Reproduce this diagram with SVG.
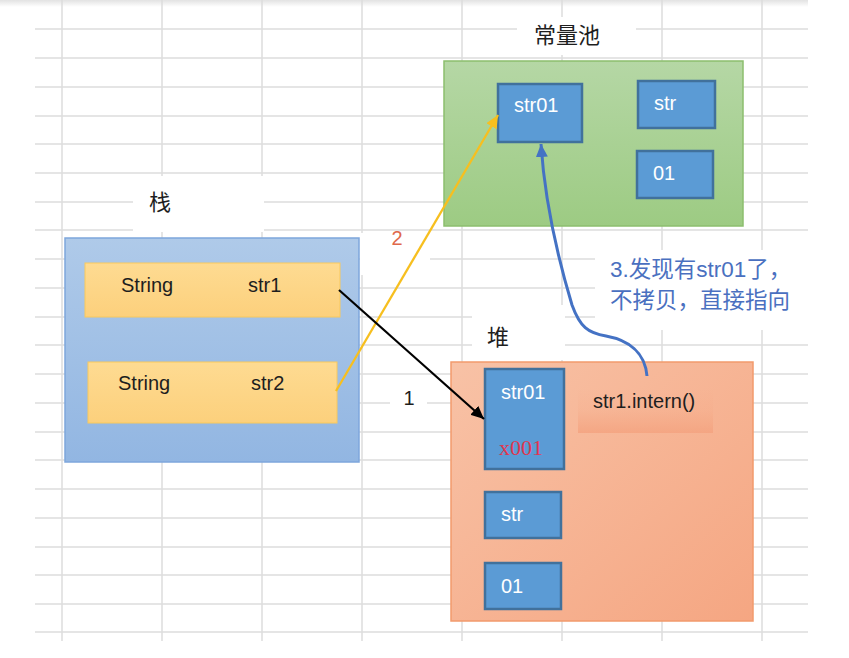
<svg xmlns="http://www.w3.org/2000/svg" width="849" height="658" viewBox="0 0 849 658">
<defs>
<style>
.grid line{stroke:#dcdcdc;stroke-width:1.5}
.cell{fill:#5b9bd5;stroke:#41719c;stroke-width:2.5}
.wt{fill:#ffffff;font-family:"Liberation Sans","Noto Sans",sans-serif;font-size:20px}
.dk{fill:#1e1e1e;font-family:"Liberation Sans","Noto Sans",sans-serif;font-size:20px}
.cjk{fill:#1e1e1e;font-family:"Liberation Sans","Noto Sans CJK SC",sans-serif;font-size:22px}
.note{fill:#4a70c0;font-family:"Liberation Sans","Noto Sans CJK SC",sans-serif;font-size:22.5px}
.bg{fill:#ffffff}
</style>
<linearGradient id="gTop" x1="0" y1="0" x2="0" y2="1"><stop offset="0" stop-color="#e2e2e2"/><stop offset="1" stop-color="#ffffff"/></linearGradient>
<linearGradient id="gStack" x1="0" y1="0" x2="0" y2="1"><stop offset="0" stop-color="#afcae9"/><stop offset="1" stop-color="#92b6e2"/></linearGradient>
<linearGradient id="gRow" x1="0" y1="0" x2="0" y2="1"><stop offset="0" stop-color="#fedb92"/><stop offset="1" stop-color="#fcd07c"/></linearGradient>
<linearGradient id="gPool" x1="0" y1="0" x2="0" y2="1"><stop offset="0" stop-color="#b5d7a5"/><stop offset="1" stop-color="#9dcb83"/></linearGradient>
<linearGradient id="gHeap" x1="0" y1="0" x2="1" y2="1"><stop offset="0" stop-color="#f8c2a6"/><stop offset="1" stop-color="#f5a682"/></linearGradient>
<linearGradient id="gBand" x1="0" y1="0" x2="0" y2="1"><stop offset="0" stop-color="#f5a784" stop-opacity="0"/><stop offset="0.5" stop-color="#f5a784" stop-opacity="0.2"/><stop offset="1" stop-color="#f4a380" stop-opacity="0.85"/></linearGradient>
<marker id="aBlack" markerUnits="userSpaceOnUse" markerWidth="14" markerHeight="12" refX="13" refY="6" orient="auto"><path d="M0,0 L13,6 L0,12 Z" fill="#000000"/></marker>
<marker id="aYellow" markerUnits="userSpaceOnUse" markerWidth="14" markerHeight="12" refX="13" refY="6" orient="auto"><path d="M0,0 L13,6 L0,12 Z" fill="#f7bf1f"/></marker>
<marker id="aBlue" markerUnits="userSpaceOnUse" markerWidth="14" markerHeight="12" refX="13" refY="6" orient="auto"><path d="M0,0 L13,6 L0,12 Z" fill="#4472c4"/></marker>
</defs>
<rect width="849" height="658" fill="#ffffff"/>
<rect x="0" y="0" width="808" height="7" fill="url(#gTop)"/>
<g class="grid">
<line x1="62" y1="0" x2="62" y2="641"/><line x1="162" y1="0" x2="162" y2="641"/><line x1="262" y1="0" x2="262" y2="641"/><line x1="362" y1="0" x2="362" y2="641"/><line x1="462" y1="0" x2="462" y2="641"/><line x1="562" y1="0" x2="562" y2="641"/><line x1="662" y1="0" x2="662" y2="641"/><line x1="762" y1="0" x2="762" y2="641"/>
<line x1="35" y1="29" x2="808" y2="29"/><line x1="35" y1="58" x2="808" y2="58"/><line x1="35" y1="87" x2="808" y2="87"/><line x1="35" y1="116" x2="808" y2="116"/><line x1="35" y1="144" x2="808" y2="144"/><line x1="35" y1="173" x2="808" y2="173"/><line x1="35" y1="202" x2="808" y2="202"/><line x1="35" y1="230" x2="808" y2="230"/><line x1="35" y1="259" x2="808" y2="259"/><line x1="35" y1="288" x2="808" y2="288"/><line x1="35" y1="317" x2="808" y2="317"/><line x1="35" y1="345" x2="808" y2="345"/><line x1="35" y1="374" x2="808" y2="374"/><line x1="35" y1="403" x2="808" y2="403"/><line x1="35" y1="432" x2="808" y2="432"/><line x1="35" y1="460" x2="808" y2="460"/><line x1="35" y1="489" x2="808" y2="489"/><line x1="35" y1="518" x2="808" y2="518"/><line x1="35" y1="547" x2="808" y2="547"/><line x1="35" y1="575" x2="808" y2="575"/><line x1="35" y1="604" x2="808" y2="604"/><line x1="35" y1="632" x2="808" y2="632"/>
</g>
<g id="label-bgs">
<rect class="bg" x="517" y="17" width="119" height="38"/>
<rect class="bg" x="133" y="176" width="131" height="56"/>
<rect class="bg" x="360" y="233" width="70" height="42"/>
<rect class="bg" x="472" y="305" width="93" height="55"/>
<rect class="bg" x="390" y="380" width="37" height="34"/>
<rect class="bg" x="595" y="250" width="213" height="80"/>
</g>
<g id="stack">
<rect x="65" y="238" width="294" height="224" fill="url(#gStack)" stroke="#7ea6dc" stroke-width="1.5"/>
<text class="cjk" x="160" y="210" text-anchor="middle">栈</text>
</g>
<g id="stack-str1">
<rect x="85" y="263" width="255" height="54" fill="url(#gRow)" stroke="#f9c95c" stroke-width="1"/>
<text class="dk" x="121" y="292">String</text>
<text class="dk" x="248" y="292">str1</text>
</g>
<g id="stack-str2">
<rect x="88" y="362" width="249" height="61" fill="url(#gRow)" stroke="#f9c95c" stroke-width="1"/>
<text class="dk" x="118" y="390">String</text>
<text class="dk" x="251" y="390">str2</text>
</g>
<g id="pool">
<rect x="444" y="61" width="299" height="165" fill="url(#gPool)" stroke="#8cbe6e" stroke-width="1.5"/>
<text class="cjk" x="567" y="43" text-anchor="middle">常量池</text>
</g>
<g id="pool-str01">
<rect class="cell" x="498" y="84" width="84" height="58"/>
<text class="wt" x="514" y="112">str01</text>
</g>
<g id="pool-str">
<rect class="cell" x="638" y="81" width="77" height="47"/>
<text class="wt" x="654" y="110">str</text>
</g>
<g id="pool-01">
<rect class="cell" x="637" y="151" width="76" height="47"/>
<text class="wt" x="653" y="180">01</text>
</g>
<g id="heap">
<rect x="451" y="362" width="302" height="259" fill="url(#gHeap)" stroke="#f29a6c" stroke-width="1.5"/>
<text class="cjk" x="498" y="345" text-anchor="middle">堆</text>
</g>
<g id="heap-str01">
<rect class="cell" x="485" y="369" width="79" height="100"/>
<text class="wt" x="501" y="399">str01</text>
<text x="499" y="455" fill="#e0364f" font-family="'Liberation Serif',serif" font-size="22">x001</text>
</g>
<g id="heap-str">
<rect class="cell" x="485" y="492" width="76" height="46"/>
<text class="wt" x="501" y="521">str</text>
</g>
<g id="heap-01">
<rect class="cell" x="485" y="563" width="76" height="46"/>
<text class="wt" x="501" y="593">01</text>
</g>
<g id="intern">
<rect x="578" y="388" width="135" height="45" fill="url(#gBand)"/>
<text class="dk" x="593" y="408" font-size="21">str1.intern()</text>
</g>
<g id="connectors" fill="none">
<line x1="336" y1="391" x2="498" y2="115" stroke="#f7bf1f" stroke-width="2.3" marker-end="url(#aYellow)"/>
<line x1="339" y1="290" x2="484" y2="419" stroke="#000000" stroke-width="2.2" marker-end="url(#aBlack)"/>
<path d="M647,376 C645,352 628,340 606,336 C588,333 580,327 572,305 C560,265 545,205 541,144" stroke="#4472c4" stroke-width="3" marker-end="url(#aBlue)"/>
</g>
<g id="edge-labels">
<text x="397" y="245" text-anchor="middle" fill="#e0684b" font-family="'Liberation Sans',sans-serif" font-size="20">2</text>
<text x="409" y="405" text-anchor="middle" fill="#1e1e1e" font-family="'Liberation Sans',sans-serif" font-size="20">1</text>
<text class="note" x="610" y="277">3.发现有str01了，</text>
<text class="note" x="610" y="308">不拷贝，直接指向</text>
</g>
</svg>
